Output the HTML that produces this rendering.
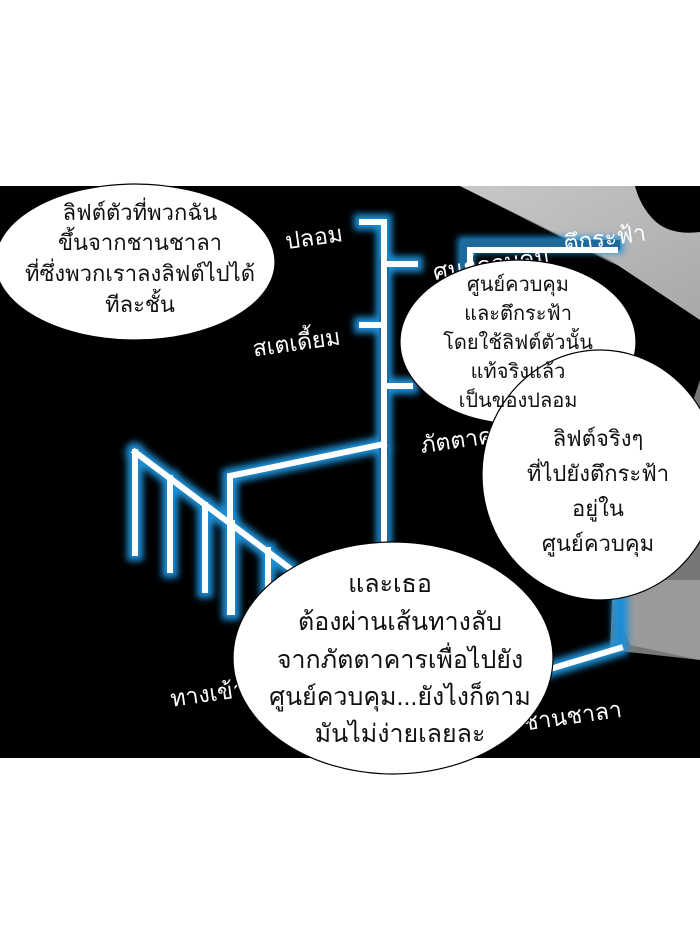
<!DOCTYPE html>
<html><head><meta charset="utf-8"><style>
html,body{margin:0;padding:0;background:#fff;width:700px;height:932px;overflow:hidden}
svg{display:block}
.t{font-family:"Liberation Sans","Noto Sans CJK SC",sans-serif;fill:#111;text-anchor:middle}
.l{font-family:"Liberation Sans","Noto Sans CJK SC",sans-serif;font-size:23px;fill:#fff}
</style></head><body>
<svg width="700" height="932" viewBox="0 0 700 932" xmlns="http://www.w3.org/2000/svg">
<defs>
<filter id="g" x="-20%" y="-20%" width="140%" height="140%"><feGaussianBlur stdDeviation="3.5"/></filter>
<linearGradient id="gr" x1="0" y1="0" x2="1" y2="1"><stop offset="0" stop-color="#c8c8c8"/><stop offset="1" stop-color="#a8a8a8"/></linearGradient>
</defs>
<rect x="0" y="186" width="700" height="572" fill="#000"/>
<polygon points="460,186 700,186 700,660 610,650 612,600 640,560 700,380 700,300 610,262" fill="#777"/>
<polygon points="460,186 700,186 700,320 610,260" fill="url(#gr)"/>
<path d="M635,186 L700,186 L700,232 Q668,236 652,218 Q640,205 635,186Z" fill="#000"/>
<polygon points="605,580 700,580 700,660 630,645" fill="#9a9a9a"/>
<g fill="none" stroke-linecap="square">
<g stroke="#1a8fd6" stroke-width="16" filter="url(#g)">
<path d="M362,222 H384 V600 M384,264 H415 M362,325 H384 M384,386 H410 M466,245 V330 M466,245 H615 M384,444 L230,476 V612 M135,452 L300,576 M135,452 V553 M170,478 V570 M205,505 V590 M232,523 V612 M268,550 V605 M540,672 L620,648 V600"/>
</g>
<g stroke="#1f6a9a" stroke-width="10">
<path d="M466,245 V330 M466,245 H615 M384,264 V600"/>
</g>
<g stroke="#fff" stroke-width="6">
<path d="M362,222 H384 V600 M384,264 H415 M362,325 H384 M384,386 H410 M470,250 V330 M470,250 H615 M384,444 L230,476 V612 M135,452 L300,576 M135,452 V553 M170,478 V570 M205,505 V590 M232,523 V612 M268,550 V605 M540,672 L620,648"/>
</g>
</g>
<text class="l" x="285" y="245" transform="rotate(-8 315 236)">ปลอม</text>
<text class="l" x="252" y="350" transform="rotate(-8 300 340)">สเตเดี้ยม</text>
<text class="l" x="432" y="272" transform="rotate(-8 490 260)">ศูนย์ควบคุม</text>
<text class="l" x="563" y="246" transform="rotate(-8 605 236)">ตึกระฟ้า</text>
<text class="l" x="420" y="449" transform="rotate(-8 450 440)">ภัตตาคาร</text>
<text class="l" x="170" y="702" transform="rotate(-8 205 693)">ทางเข้า</text>
<text class="l" x="522" y="724" transform="rotate(-8 570 714)">ชานชาลา</text>
<g fill="#fff" stroke="#000" stroke-width="1.2">
<ellipse cx="135" cy="262" rx="140" ry="78"/>
<ellipse cx="518" cy="342" rx="118" ry="82"/>
<ellipse cx="600" cy="475" rx="118" ry="125"/>
<ellipse cx="393" cy="658" rx="160" ry="116"/>
</g>
<g class="t" font-size="22">
<text x="140" y="220">ลิฟต์ตัวที่พวกฉัน</text>
<text x="140" y="250">ขึ้นจากชานชาลา</text>
<text x="140" y="281">ที่ซึ่งพวกเราลงลิฟต์ไปได้</text>
<text x="140" y="312">ทีละชั้น</text>
</g>
<g class="t" font-size="20">
<text x="518" y="291">ศูนย์ควบคุม</text>
<text x="518" y="320">และตึกระฟ้า</text>
<text x="518" y="349">โดยใช้ลิฟต์ตัวนั้น</text>
<text x="518" y="378">แท้จริงแล้ว</text>
<text x="518" y="407">เป็นของปลอม</text>
</g>
<g class="t" font-size="22">
<text x="598" y="446">ลิฟต์จริงๆ</text>
<text x="598" y="481">ที่ไปยังตึกระฟ้า</text>
<text x="598" y="516">อยู่ใน</text>
<text x="598" y="551">ศูนย์ควบคุม</text>
</g>
<g class="t" font-size="25">
<text x="390" y="592">และเธอ</text>
<text x="400" y="630">ต้องผ่านเส้นทางลับ</text>
<text x="400" y="668">จากภัตตาคารเพื่อไปยัง</text>
<text x="400" y="705">ศูนย์ควบคุม...ยังไงก็ตาม</text>
<text x="400" y="742">มันไม่ง่ายเลยละ</text>
</g>
</svg>
</body></html>
